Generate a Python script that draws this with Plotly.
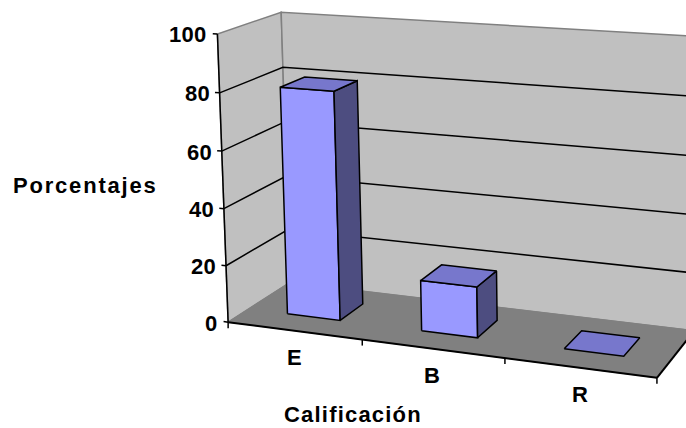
import numpy as np
import plotly.graph_objects as go

categories = ["E", "B", "R"]
values = [80, 17.5, 0]
y_ticks = [0, 20, 40, 60, 80, 100]
y_title = "Porcentajes"
x_title = "Calificación"

WALL = "#C0C0C0"
FLOOR = "#808080"
FRONT = "#9999FF"
TOP = "#7777CC"
SIDE = "#4D4D80"
FONT = dict(family="Liberation Sans", size=22, color="black")

# Perspective calibration: (category pos, depth, value) -> pixel, with a weight
calib = [
    ((0, 0, 0), (228.5, 322), 4), ((0, 0, 100), (217, 34), 4), ((0, 1, 100), (283, 12), 2),
    ((0, 1, 0), (283, 285), 1), ((3, 0, 0), (657, 378), 3), ((3, 1, 0), (695, 329), 1),
    ((3, 1, 100), (695, 36), 1), ((0, 0, 80), (219.5, 94), 1), ((0, 1, 80), (283, 67), 1),
    ((3, 1, 80), (695, 97), 1),
]
A, b = [], []
for (u, d, v), (px, py), wt in calib:
    A.append([wt*c for c in [u, d, v, 1, 0, 0, 0, 0, -px*u, -px*d, -px*v]]); b.append(wt*px)
    A.append([wt*c for c in [0, 0, 0, 0, u, d, v, 1, -py*u, -py*d, -py*v]]); b.append(wt*py)
P = np.linalg.lstsq(np.array(A, float), np.array(b, float), rcond=None)[0]


def proj(u, d, v):
    w = P[8]*u + P[9]*d + P[10]*v + 1
    return (P[0]*u + P[1]*d + P[2]*v + P[3]) / w, (P[4]*u + P[5]*d + P[6]*v + P[7]) / w


fig = go.Figure()


def poly(pts, fill=None, line="black", width=1.5):
    xy = [proj(*p) for p in pts]
    x = [q[0] for q in xy]
    y = [q[1] for q in xy]
    if fill:
        x.append(x[0]); y.append(y[0])
    fig.add_trace(go.Scatter(
        x=x, y=y, mode="lines", fill="toself" if fill else None, fillcolor=fill,
        line=dict(color=line, width=width), hoverinfo="skip", showlegend=False))


n = len(categories)
VMAX = y_ticks[-1]
poly([(0, 0, 0), (0, 1, 0), (0, 1, VMAX), (0, 0, VMAX)], WALL, "#808080", 1.5)
poly([(0, 1, 0), (n, 1, 0), (n, 1, VMAX), (0, 1, VMAX)], WALL, "#808080", 1.5)
poly([(0, 0, 0), (n, 0, 0), (n, 1, 0), (0, 1, 0)], FLOOR, "#808080", 1)
for t in y_ticks[1:-1]:
    poly([(0, 0, t), (0, 1, t), (n, 1, t)], width=1.5)

# front axes and ticks
poly([(0, 0, 0), (0, 0, VMAX)], width=1.5)
poly([(0, 0, 0), (n, 0, 0)], width=2)
poly([(n, 0, 0), (n, 1, 0)], width=2)
TICK_SP = '<span style="letter-spacing:0.3px">'
for t in y_ticks:
    poly([(-0.035, 0, t), (0, 0, t)], width=1.5)
    x, y = proj(0, 0, t)
    fig.add_annotation(x=x-8, y=y+1, text=f"<b>{TICK_SP}{t}</span></b>", showarrow=False,
                       xanchor="right", yanchor="middle", font=FONT)
for i in range(n+1):
    x0, y0 = proj(i, 0, 0)
    fig.add_shape(type="line", x0=x0, y0=y0, x1=x0, y1=y0+6, line=dict(color="black", width=1.5))

HALF_U, D0, D1 = 0.2, 0.32, 0.72
for i, v in enumerate(values):
    u0, u1 = i+0.5-HALF_U, i+0.5+HALF_U
    if v > 0:
        poly([(u0, D0, 0), (u1, D0, 0), (u1, D0, v), (u0, D0, v)], FRONT)
        poly([(u1, D0, 0), (u1, D1, 0), (u1, D1, v), (u1, D0, v)], SIDE)
    poly([(u0, D0, v), (u1, D0, v), (u1, D1, v), (u0, D1, v)], TOP)
    x, y = proj(i+0.5, 0, 0)
    fig.add_annotation(x=x, y=y+27, text=f"<b>{categories[i]}</b>", showarrow=False, font=FONT)

fig.add_annotation(x=85, y=185, text=f'<b><span style="letter-spacing:1.8px">{y_title}</span></b>',
                   showarrow=False, font=FONT)
fig.add_annotation(x=353, y=414, text=f'<b><span style="letter-spacing:1.2px">{x_title}</span></b>',
                   showarrow=False, font=FONT)

fig.update_layout(
    width=686, height=428, margin=dict(l=0, r=0, t=0, b=0),
    paper_bgcolor="white", plot_bgcolor="white",
    xaxis=dict(range=[0, 686], visible=False, fixedrange=True),
    yaxis=dict(range=[428, 0], visible=False, fixedrange=True),
)
fig.write_html("out.html", config={"displayModeBar": False},
               post_script="document.body.style.margin='0';")
